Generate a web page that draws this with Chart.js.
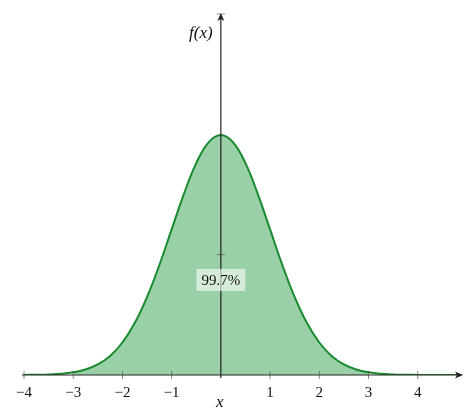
<!DOCTYPE html>
<html><head><meta charset="utf-8">
<script src="https://cdn.jsdelivr.net/npm/chart.js@4"></script>
<style>html,body{margin:0;padding:0;background:#fff}</style>
</head><body>
<div style="width:474px;height:412px"><canvas id="c" width="474" height="412"></canvas></div>
<script>
const xs = [-4,-3.75,-3.5,-3.25,-3,-2.75,-2.5,-2.25,-2,-1.75,-1.5,-1.25,-1,-0.75,-0.5,-0.25,0,0.25,0.5,0.75,1,1.25,1.5,1.75,2,2.25,2.5,2.75,3,3.25,3.5,3.75,4,4.25,4.5,4.75,4.9];
const ys = [0.0001,0.0004,0.0009,0.0020,0.0044,0.0091,0.0175,0.0317,0.0540,0.0863,0.1295,0.1826,0.2420,0.3011,0.3521,0.3867,0.3989,0.3867,0.3521,0.3011,0.2420,0.1826,0.1295,0.0863,0.0540,0.0317,0.0175,0.0091,0.0044,0.0020,0.0009,0.0004,0.0001,0.00005,0.00002,0,0];
const xTicks = [-4,-3,-2,-1,1,2,3,4];
const yTicks = [0.2,0.6];
const areaLabel = "99.7%";
const curve = xs.map((x,i)=>({x, y: ys[i]}));
const shaded = curve.filter(p => p.x >= -3 && p.x <= 3);

const axes = {
  id:'axes',
  afterDatasetsDraw(chart){
    const ctx = chart.ctx, sx = chart.scales.x, sy = chart.scales.y;
    const x0 = sx.getPixelForValue(0), y0 = sy.getPixelForValue(0);
    const xl = sx.getPixelForValue(-4), xr = sx.getPixelForValue(4.9);
    const yt = sy.getPixelForValue(0.6);
    ctx.save();
    ctx.strokeStyle = '#222'; ctx.fillStyle = '#222'; ctx.lineWidth = 1.2;
    ctx.beginPath(); ctx.moveTo(xl-2, y0); ctx.lineTo(xr-4, y0); ctx.stroke();
    ctx.beginPath(); ctx.moveTo(x0, y0+3); ctx.lineTo(x0, yt+4); ctx.stroke();
    ctx.beginPath(); ctx.moveTo(xr+1,y0); ctx.lineTo(xr-7,y0-3.5); ctx.lineTo(xr-5,y0); ctx.lineTo(xr-7,y0+3.5); ctx.closePath(); ctx.fill();
    ctx.beginPath(); ctx.moveTo(x0,yt-1); ctx.lineTo(x0-3.5,yt+7); ctx.lineTo(x0,yt+5); ctx.lineTo(x0+3.5,yt+7); ctx.closePath(); ctx.fill();
    ctx.strokeStyle = 'rgba(60,60,60,0.6)'; ctx.lineWidth = 1;
    ctx.font = '15px "Liberation Serif"'; ctx.textAlign='center'; ctx.textBaseline='middle'; ctx.fillStyle='#111';
    xTicks.forEach(t=>{
      const px = sx.getPixelForValue(t);
      ctx.beginPath(); ctx.moveTo(px,y0-4); ctx.lineTo(px,y0+4); ctx.stroke();
      ctx.fillText((t<0?'\u2212':'')+Math.abs(t), px, y0+18);
    });
    yTicks.forEach(t=>{
      const py = sy.getPixelForValue(t);
      ctx.beginPath(); ctx.moveTo(x0-4,py); ctx.lineTo(x0+4,py); ctx.stroke();
    });
    ctx.font = 'italic 17px "Liberation Serif"';
    ctx.fillText('x', x0-1, y0+28);
    ctx.fillText('f(x)', x0-20, sy.getPixelForValue(0.568));
    const ly = sy.getPixelForValue(0.158);
    ctx.font = '15px "Liberation Serif"';
    const w = ctx.measureText(areaLabel).width + 10;
    ctx.fillStyle = 'rgba(255,255,255,0.6)';
    ctx.fillRect(x0 - w/2, ly-11, w, 22);
    ctx.fillStyle = '#111';
    ctx.fillText(areaLabel, x0, ly+1);
    ctx.restore();
  }
};

new Chart(document.getElementById('c'), {
  type:'line',
  data:{datasets:[
    {data: curve, borderColor:'#1a8a2e', borderWidth:2, pointRadius:0, tension:0.4, fill:false, order:0},
    {data: shaded, borderWidth:0, borderColor:'rgba(0,0,0,0)', backgroundColor:'rgba(70,170,95,0.55)', pointRadius:0, tension:0.4, fill:'origin', order:1}
  ]},
  options:{
    responsive:false, animation:false, events:[],
    layout:{padding:{left:24,right:12,top:14,bottom:37}},
    plugins:{legend:{display:false}, tooltip:{enabled:false}},
    scales:{
      x:{type:'linear', min:-4, max:4.9, display:false},
      y:{min:0, max:0.6, display:false}
    }
  },
  plugins:[axes]
});
</script>
</body></html>
